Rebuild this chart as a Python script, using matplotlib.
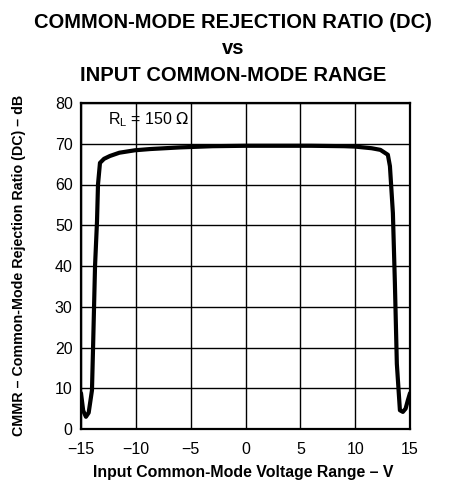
import matplotlib.pyplot as plt

plt.rcParams['font.family'] = ['Liberation Sans', 'DejaVu Sans']

# CMRR (DC) vs input common-mode voltage, RL = 150 ohm
vcm = [-15.0, -14.8, -14.55, -14.3, -14.0, -13.9, -13.72, -13.54, -13.45, -13.27,
       -12.9, -12.36, -11.5, -10.08, -8.7, -6.0, -3.0, 0.0, 3.0, 6.0, 9.0, 10.0,
       11.5, 12.3, 12.98, 13.17, 13.44, 13.62, 13.8, 14.08, 14.35, 14.6, 14.8, 15.0]
cmrr = [8.8, 4.5, 3.0, 4.0, 9.5, 20.0, 40.0, 51.0, 60.0, 65.3,
        66.3, 67.0, 67.8, 68.4, 68.7, 69.1, 69.4, 69.5, 69.5, 69.5, 69.4, 69.3,
        68.9, 68.5, 67.3, 64.5, 53.0, 36.0, 16.0, 4.6, 4.2, 5.0, 7.0, 8.8]

fig = plt.figure(figsize=(4.58, 4.8), dpi=100)
ax = fig.add_axes([81/458, 1 - 429/480, 329/458, 326/480])

ax.plot(vcm, cmrr, color='black', linewidth=3, solid_capstyle='round', solid_joinstyle='round', zorder=3)

ax.set_xlim(-15, 15)
ax.set_ylim(0, 80)
ax.set_xticks(range(-15, 16, 5))
ax.set_yticks(range(0, 81, 10))
ax.set_xticklabels(['\u221215', '\u221210', '\u22125', '0', '5', '10', '15'])
ax.tick_params(length=0, labelsize=11.5)
ax.tick_params(axis='x', pad=9)
ax.tick_params(axis='y', pad=6)
ax.grid(True, color='black', linewidth=1.0)
for s in ax.spines.values():
    s.set_linewidth(1.6)

ax.text(-12.5, 76, r'R$_\mathregular{L}$ = 150 $\Omega$', fontsize=11.5, va='center', ha='left')

ax.text(243/458, 1 - 472/480, 'Input Common-Mode Voltage Range \u2013 V', transform=fig.transFigure,
        fontsize=11.4, fontweight='bold', ha='center', va='center')
ax.text(19/458, 1 - 265/480, 'CMMR \u2013 Common-Mode Rejection Ratio (DC) \u2013 dB', transform=fig.transFigure,
        fontsize=10.3, fontweight='bold', ha='center', va='center', rotation=90)

fig.text(233/458, 1 - 49/480, 'COMMON-MODE REJECTION RATIO (DC)\nvs\nINPUT COMMON-MODE RANGE',
         ha='center', va='center', fontsize=14.5, fontweight='bold', linespacing=1.5)

fig.savefig('out.png', dpi=100)
